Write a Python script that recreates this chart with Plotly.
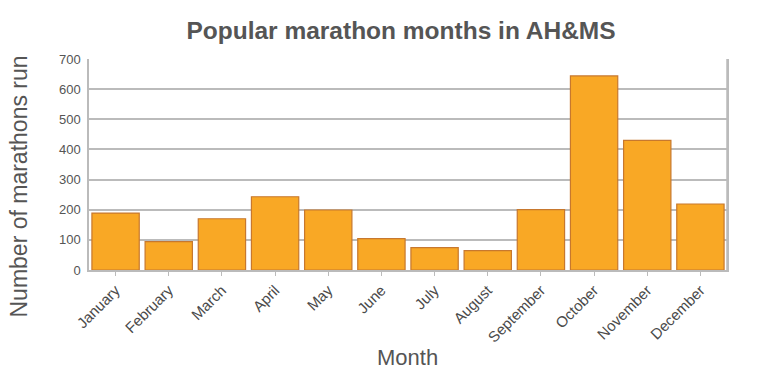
import plotly.graph_objects as go

months = ["January", "February", "March", "April", "May", "June", "July",
          "August", "September", "October", "November", "December"]
marathons = [189, 94, 170, 243, 199, 104, 74, 64, 200, 644, 430, 219]
y_ticks = [0, 100, 200, 300, 400, 500, 600, 700]

fig = go.Figure(go.Bar(
    x=months, y=marathons,
    marker=dict(color="#F9A825", line=dict(color="#C7782E", width=1.2)),
))

fig.update_layout(
    width=768, height=378,
    margin=dict(l=89, r=41, t=59, b=108, autoexpand=False),
    paper_bgcolor="white", plot_bgcolor="white",
    bargap=0.11,
    font=dict(family="Liberation Sans, Arial, sans-serif", color="#444"),
    title=dict(text="<b>Popular marathon months in AH&MS</b>", x=401 / 768, xanchor="center",
               xref="container", y=1 - 30 / 378, yanchor="middle", font=dict(size=24.5, color="#555")),
    showlegend=False,
)
fig.update_xaxes(
    automargin=False,
    tickangle=-45, tickfont=dict(size=15, color="#4a4a4a"),
    ticks="outside", ticklen=4, tickcolor="#bbb",
    showline=True, linecolor="#bbb", linewidth=1.5, mirror=False,
)
fig.update_yaxes(
    automargin=False,
    range=[0, 700], tickvals=y_ticks, tickfont=dict(size=13, color="#555"),
    showgrid=True, gridcolor="#bbb", gridwidth=1.5,
    showline=True, linecolor="#bbb", linewidth=1.5, mirror=True,
    zeroline=False, ticks="", ticklabelstandoff=4,
)
fig.add_shape(type="line", xref="paper", yref="paper", x0=1, x1=1, y0=0, y1=1,
              line=dict(color="#bbb", width=1.5))
fig.add_annotation(text="Number of marathons run", xref="paper", yref="paper",
                   x=-71 / 638, y=(270 - 186.5) / 211, textangle=-90,
                   showarrow=False, xanchor="center", yanchor="middle",
                   font=dict(size=23, color="#555"))
fig.add_annotation(text="Month", xref="paper", yref="paper",
                   x=(407 - 89) / 638, y=(270 - 357) / 211,
                   showarrow=False, xanchor="center", yanchor="middle",
                   font=dict(size=22, color="#555"))

fig.write_html("out.html", config={"displayModeBar": False},
               post_script="document.body.style.margin='0';")
